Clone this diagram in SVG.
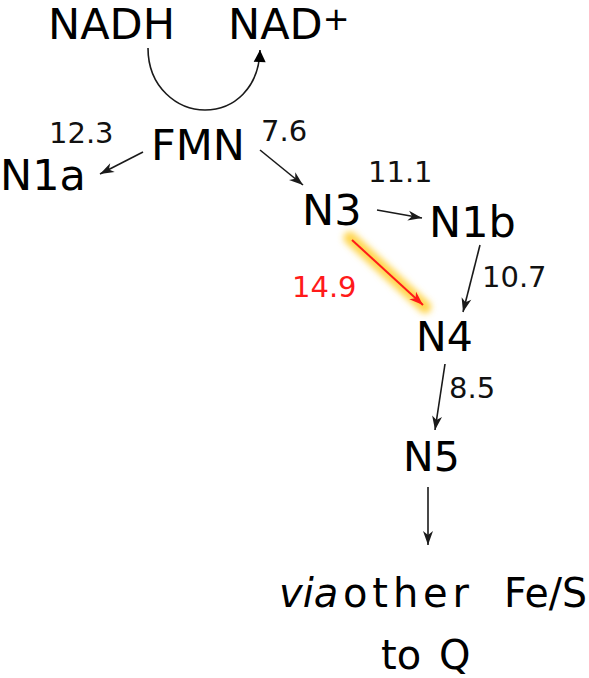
<svg xmlns="http://www.w3.org/2000/svg" width="589" height="678" viewBox="0 0 589 678">
<style>
.lbl{font-family:"DejaVu Sans",Verdana,sans-serif;font-size:43px;fill:#000}
.lbs{font-family:"DejaVu Sans",Verdana,sans-serif;font-size:41px;fill:#000}
.num{font-family:"DejaVu Sans",Verdana,sans-serif;font-size:29px;fill:#111}
.red{fill:#ff1a1a}
.bot{font-family:"DejaVu Sans",Verdana,sans-serif;font-size:40px;fill:#000}
.ln{fill:none;stroke:#1a1a1a;stroke-width:1.6;marker-end:url(#ah)}
</style>
<defs>
<marker id="ah" markerUnits="userSpaceOnUse" markerWidth="16" markerHeight="12" refX="14" refY="5" orient="auto" overflow="visible">
<path d="M0,0 L14,5 L0,10 L4,5 z" fill="#1a1a1a"/>
</marker>
<marker id="ahr" markerUnits="userSpaceOnUse" markerWidth="16" markerHeight="12" refX="14" refY="5" orient="auto" overflow="visible">
<path d="M0,0 L14,5 L0,10 L4,5 z" fill="#ff1a1a"/>
</marker>
<marker id="tri" markerUnits="userSpaceOnUse" markerWidth="14" markerHeight="14" refX="12" refY="6" orient="auto" overflow="visible">
<path d="M0,0 L12,6 L0,12 z" fill="#000"/>
</marker>
<filter id="glow" x="-30%" y="-30%" width="160%" height="160%">
<feGaussianBlur stdDeviation="3"/>
</filter>
</defs>

<g id="connectors">
<path id="c-nadh" d="M148,48 C148,88 178,110 205,110 C234,110 259,88 260,50" fill="none" stroke="#1a1a1a" stroke-width="1.6" marker-end="url(#tri)"/>
<path id="c-fmn-n1a" class="ln" d="M143,152 L100,174"/>
<path id="c-fmn-n3" class="ln" d="M260,150 L303,185"/>
<path id="c-n3-n1b" class="ln" d="M377,210 L422,218"/>
<path id="c-n1b-n4" class="ln" d="M480,245 L463,312"/>
<g id="c-n3-n4">
<g filter="url(#glow)">
<path d="M350,238 L425,307" stroke="#ffd23f" stroke-width="13" stroke-linecap="round" fill="none" opacity="0.9"/>
</g>
<path d="M352,240 L423,305" stroke="#ff1a1a" stroke-width="2" fill="none" marker-end="url(#ahr)"/>
</g>
<path id="c-n4-n5" class="ln" d="M445,364 L435,430"/>
<path id="c-n5-q" class="ln" d="M428,487 L428,545"/>
</g>

<g id="n-nadh"><text class="lbl" x="48" y="39">NADH</text></g>
<g id="n-nad"><text class="lbl" x="228" y="39">NAD<tspan font-size="32" dy="-9">+</tspan></text></g>
<g id="n-fmn"><text class="lbl" x="151" y="160">FMN</text></g>
<g id="n-n1a"><text class="lbl" x="0" y="190">N1a</text></g>
<g id="n-n3"><text class="lbl" x="302" y="225">N3</text></g>
<g id="n-n1b"><text class="lbl" x="429" y="237">N1b</text></g>
<g id="n-n4"><text class="lbs" x="416" y="351">N4</text></g>
<g id="n-n5"><text class="lbs" x="403" y="471">N5</text></g>
<g id="n-q">
<text class="bot" x="279" y="607" font-style="italic">via</text>
<text class="bot" x="343" y="607" textLength="126" lengthAdjust="spacing">other</text>
<text class="bot" x="504" y="607" textLength="83" lengthAdjust="spacingAndGlyphs">Fe/S</text>
<text class="bot" x="381" y="669" font-size="48">to</text>
<text class="bot" x="439" y="669" font-size="46">Q</text>
</g>

<g id="labels">
<text class="num" x="49" y="143">12.3</text>
<text class="num" x="261" y="141">7.6</text>
<text class="num" x="368" y="182">11.1</text>
<text class="num red" x="292" y="297">14.9</text>
<text class="num" x="482" y="287">10.7</text>
<text class="num" x="449" y="398">8.5</text>
</g>
</svg>
